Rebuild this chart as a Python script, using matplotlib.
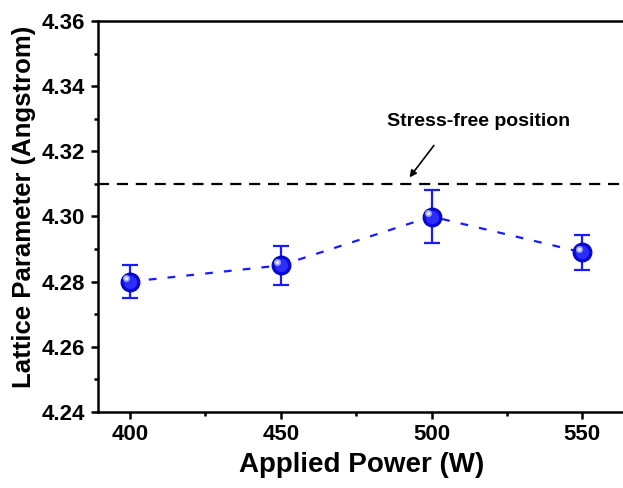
import matplotlib
matplotlib.use("Agg")
import matplotlib.pyplot as plt
from matplotlib.ticker import MultipleLocator, FormatStrFormatter

plt.rcParams['font.family'] = ['Liberation Sans', 'DejaVu Sans']
plt.rcParams['font.weight'] = 'bold'

# Data
power = [400, 450, 500, 550]
lattice = [4.280, 4.285, 4.300, 4.289]
err = [0.005, 0.006, 0.008, 0.0053]
stress_free = 4.31

W, H = 623, 488
fig = plt.figure(figsize=(W / 100, H / 100), dpi=100)
ax = fig.add_axes([98 / W, 1 - 412 / H, (626 - 98) / W, (412 - 21) / H])

# reference level
ax.axhline(stress_free, color='black', lw=1.6, ls=(0, (5, 3.5)), zorder=1)

# connecting dashed line and error bars
ax.errorbar(power, lattice, yerr=err, fmt='none', ecolor='#1a1aff',
            elinewidth=1.6, capsize=5.5, capthick=1.6, zorder=2)
ax.plot(power, lattice, color='#1a1aff', lw=1.6, ls=(0, (3.5, 5)), zorder=2)

# spherical markers: dark rim, blue body, soft highlight
ax.plot(power, lattice, 'o', ms=13.5, mfc='#0a0ae0', mec='#0000b0', mew=0.8, zorder=3)
ax.plot(power, lattice, 'o', ms=9.5, mfc='#2d2dff', mec='none', zorder=4)
hx = [p - 1.2 for p in power]
hy = [v + 0.0011 for v in lattice]
ax.plot(hx, hy, 'o', ms=5, mfc='#9aa8ff', mec='none', zorder=5)
ax.plot(hx, hy, 'o', ms=2.4, mfc='#e8ecff', mec='none', zorder=6)

# arrow pointing at the reference level, label above it
ax.annotate('', xy=(492.7, 4.3120), xytext=(500.8, 4.3218),
            arrowprops=dict(arrowstyle='-|>', color='black', lw=1.2,
                            mutation_scale=10, shrinkA=0, shrinkB=0),
            zorder=6)
ax.text(515.6, 4.3292, 'Stress-free position', fontsize=14, fontweight='bold',
        ha='center', va='center', zorder=6)

ax.set_xlim(389.4, 564.5)
ax.set_ylim(4.24, 4.36)
ax.xaxis.set_major_locator(MultipleLocator(50))
ax.xaxis.set_minor_locator(MultipleLocator(25))
ax.yaxis.set_major_locator(MultipleLocator(0.02))
ax.yaxis.set_minor_locator(MultipleLocator(0.01))
ax.yaxis.set_major_formatter(FormatStrFormatter('%.2f'))

for s in ax.spines.values():
    s.set_linewidth(1.8)
ax.tick_params(which='major', direction='out', length=5, width=1.8,
               labelsize=16, pad=4)
ax.tick_params(which='minor', direction='out', length=3, width=1.8)
ax.tick_params(top=False, right=False)
for lab in ax.get_xticklabels() + ax.get_yticklabels():
    lab.set_fontweight('bold')

ax.set_xlabel('Applied Power (W)', fontsize=20, fontweight='bold', labelpad=5)
ax.set_ylabel('Lattice Parameter (Angstrom)', fontsize=18.5, fontweight='bold')
ax.yaxis.set_label_coords(-0.118, 0.524)

fig.savefig('out.png', dpi=100)
